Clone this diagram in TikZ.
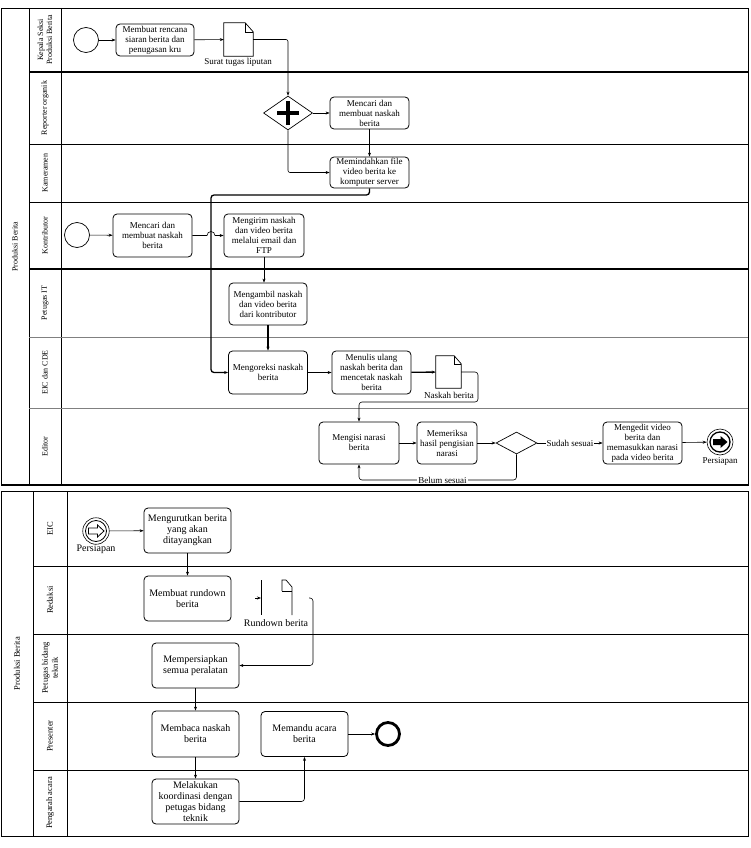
\documentclass[tikz,border=0pt]{standalone}
\usepackage{fontspec}
\setmainfont{Liberation Serif}
\usetikzlibrary{shapes.geometric,arrows.meta}
\begin{document}
\begin{tikzpicture}[x=1pt,y=-1pt,
  task/.style={draw, rounded corners=4pt, align=center, inner sep=1pt, line width=0.8pt, font=\fontsize{9}{10}\selectfont},
  taskB/.style={task, font=\fontsize{10}{11}\selectfont},
  lanelbl/.style={rotate=90, align=center, inner sep=0pt, font=\fontsize{8}{9}\selectfont},
  lanelblB/.style={lanelbl, font=\fontsize{8.5}{10}\selectfont},
  flow/.style={-{Stealth[length=4pt,width=3pt]}, line width=0.6pt},
  thickflow/.style={flow, line width=1.3pt},
  ev/.style={circle, draw, minimum size=25pt, inner sep=0pt, line width=0.7pt},
  lbl/.style={font=\fontsize{9}{10}\selectfont, inner sep=1pt},
  lblB/.style={font=\fontsize{10}{11}\selectfont, inner sep=1pt},
  gate/.style={diamond, draw, inner sep=0pt, line width=0.7pt},
  lane/.style={line width=0.7pt}
]
\useasboundingbox (0,0) rectangle (750,848);

% ================= top pool =================
\draw[line width=0.8pt] (1,8) rectangle (748,485);
\draw[lane] (29,8) -- (29,485);
\draw[lane] (61,8) -- (61,485);
\draw[line width=1.4pt] (29,72) -- (748,72);
\draw[lane] (29,144) -- (748,144);
\draw[lane] (29,202) -- (748,202);
\draw[line width=1.4pt] (29,269) -- (748,269);
\draw[lane, gray] (29,337) -- (748,337);
\draw[lane, gray] (29,408) -- (748,408);
\draw[line width=1.6pt] (1,485) -- (748,485);

\node[lanelbl] (poolA) at (15,246.5) {Produksi Berita};
\node[lanelbl] (lA1) at (45,40) {Kepala Seksi\\Produksi Berita};
\node[lanelbl] (lA2) at (45,108) {Reporter organik};
\node[lanelbl] (lA3) at (45,173) {Kameramen};
\node[lanelbl] (lA4) at (45,235.5) {Kontributor};
\node[lanelbl] (lA5) at (45,303) {Petugas IT};
\node[lanelbl] (lA6) at (45,372.5) {EIC dan CDE};
\node[lanelbl] (lA7) at (45,446.5) {Editor};

% lane 1
\node[ev] (startA) at (86,40) {};
\node[task, minimum width=78pt, minimum height=32pt] (tRencana) at (155,40) {Membuat rencana\\siaran berita dan\\penugasan kru};
\node[minimum width=29pt, minimum height=33pt, inner sep=0pt] (docA) at (238.5,39.5) {};
\draw[line width=0.7pt] (docA.north west) -- ([xshift=-8pt]docA.north east) -- ([yshift=-9pt]docA.north east) -- (docA.south east) -- (docA.south west) -- cycle;
\draw[line width=0.5pt] ([xshift=-8pt]docA.north east) -- ([xshift=-8pt,yshift=-9pt]docA.north east) -- ([yshift=-9pt]docA.north east);
\node[lbl] (docAl) at (238,62) {Surat tugas liputan};

% lane 2
\node[gate, minimum width=49pt, minimum height=34pt] (gw) at (288,113) {};
\draw[line width=3.5pt] ([xshift=-11pt]gw.center) -- ([xshift=11pt]gw.center);
\draw[line width=3.5pt] ([yshift=-12pt]gw.center) -- ([yshift=12pt]gw.center);
\node[task, minimum width=79pt, minimum height=32pt] (tMencariR) at (369.5,113) {Mencari dan\\membuat naskah\\berita};

% lane 3
\node[task, minimum width=79pt, minimum height=31pt] (tPindah) at (369.5,172.5) {Memindahkan file\\video berita ke\\komputer server};

% lane 4
\node[ev] (startK) at (77,235) {};
\node[task, minimum width=79pt, minimum height=43pt] (tMencariK) at (152.5,235.5) {Mencari dan\\membuat naskah\\berita};
\node[task, minimum width=80pt, minimum height=43pt] (tKirim) at (264,235.5) {Mengirim naskah\\dan video berita\\melalui email dan\\FTP};

% lane 5
\node[task, minimum width=78pt, minimum height=42pt] (tAmbil) at (268,304) {Mengambil naskah\\dan video berita\\dari kontributor};

% lane 6
\node[task, minimum width=79pt, minimum height=43pt] (tKoreksi) at (268,372.5) {Mengoreksi naskah\\berita};
\node[task, minimum width=79pt, minimum height=43pt] (tTulis) at (371.5,372.5) {Menulis ulang\\naskah berita dan\\mencetak naskah\\berita};
\node[minimum width=25pt, minimum height=32pt, inner sep=0pt] (docN) at (448.5,372) {};
\draw[line width=0.7pt] (docN.north west) -- ([xshift=-7pt]docN.north east) -- ([yshift=-8pt]docN.north east) -- (docN.south east) -- (docN.south west) -- cycle;
\draw[line width=0.5pt] ([xshift=-7pt]docN.north east) -- ([xshift=-7pt,yshift=-8pt]docN.north east) -- ([yshift=-8pt]docN.north east);
\node[lbl] (docNl) at (449,395) {Naskah berita};

% lane 7
\node[task, minimum width=80pt, minimum height=42pt] (tIsi) at (359,443) {Mengisi narasi\\berita};
\node[task, minimum width=60pt, minimum height=42pt] (tPeriksa) at (447,443) {Memeriksa\\hasil pengisian\\narasi};
\node[gate, minimum width=41pt, minimum height=22pt] (gw2) at (516.5,443) {};
\node[task, minimum width=79pt, minimum height=42pt] (tEdit) at (642.5,443) {Mengedit video\\berita dan\\memasukkan narasi\\pada video berita};
\node[ev, minimum size=26pt, line width=0.6pt] (endA) at (720,442) {};
\draw[line width=1.3pt] (endA.center) circle[radius=10];
\begin{scope}[shift={(endA.center)}]
\fill (-7,-3) -- (0.5,-3) -- (0.5,-6) -- (7.5,0) -- (0.5,6) -- (0.5,3) -- (-7,3) -- cycle;
\end{scope}
\node[lbl] (endAl) at (720,461) {Persiapan};

% top connectors
\draw[flow] (startA) -- (tRencana);
\draw[flow] (tRencana) -- (docA);
\draw[flow, rounded corners=2pt] (docA.east) -| (gw.north);
\draw[flow] (gw.east) -- (tMencariR.west);
\draw[flow, rounded corners=2pt] (gw.south) |- (tPindah.west);
\draw[thickflow] (tMencariR.south) -- (tPindah.north);
\draw[thickflow, rounded corners=3pt] (tPindah.south) -- (369.5,195) -- (211,195) |- (tKoreksi.west);
\draw[flow] (startK) -- (tMencariK);
\draw[flow] (tMencariK.east) -- (207,235.5) arc[start angle=180, end angle=360, radius=4] -- (tKirim.west);
\draw[flow] (tKirim.south) -- (tKirim.south |- tAmbil.north);
\draw[thickflow] (tAmbil.south) -- (tKoreksi.north);
\draw[thickflow] (tKoreksi) -- (tTulis);
\draw[thickflow] (tTulis) -- (docN);
\draw[flow, rounded corners=3pt] (docN.east) -| (478,402) -| (tIsi.north);
\draw[flow] (tIsi) -- (tPeriksa);
\draw[flow] (tPeriksa) -- (gw2);
\draw[flow] (gw2.east) -- node[lbl, fill=white] {Sudah sesuai} (tEdit.west);
\draw[flow, rounded corners=3pt] (gw2.south) -- (516.5,480) -| (tIsi.south);
\node[lbl, fill=white] (belum) at (442.5,480) {Belum sesuai};
\draw[flow] (tEdit) -- (endA);

% ================= bottom pool =================
\draw[line width=0.8pt] (1,491) rectangle (748,836);
\draw[lane] (33,491) -- (33,836);
\draw[lane] (67,491) -- (67,836);
\draw[lane] (33,566) -- (748,566);
\draw[lane] (33,634) -- (748,634);
\draw[lane] (33,702) -- (748,702);
\draw[lane] (33,770) -- (748,770);

\node[lanelblB] (poolB) at (17,663.5) {Produksi Berita};
\node[lanelblB] (lB1) at (50,528.5) {EIC};
\node[lanelblB] (lB2) at (50,600) {Redaksi};
\node[lanelblB] (lB3) at (50,668) {Petugas bidang\\teknik};
\node[lanelblB] (lB4) at (50,736) {Presenter};
\node[lanelblB] (lB5) at (50,803) {Pengarah acara};

\node[ev, minimum size=26.5pt, line width=0.6pt] (startB) at (96,531) {};
\draw[line width=0.8pt] (startB.center) circle[radius=10.5];
\begin{scope}[shift={(startB.center)}]
\draw[line width=0.8pt] (-7.5,-3) -- (1.5,-3) -- (1.5,-6) -- (8,0) -- (1.5,6) -- (1.5,3) -- (-7.5,3) -- cycle;
\end{scope}
\node[lblB] (startBl) at (96,549.5) {Persiapan};

\node[taskB, minimum width=87pt, minimum height=45pt] (tUrut) at (187.5,530.5) {Mengurutkan berita\\yang akan\\ditayangkan};
\node[taskB, minimum width=87pt, minimum height=45pt] (tRundown) at (187.5,598.5) {Membuat rundown\\berita};

% rundown document (partly drawn)
\draw[line width=0.7pt] (261,580) -- (261,615);
\draw[line width=0.7pt] (282,591) -- (282,580) -- (286,580) -- (292,587) -- (292,615);
\draw[line width=0.5pt] (282,591) -- (292,591);
\draw[flow] (255,598) -- (261,598);
\node[lblB] (rdl) at (276,623) {Rundown berita};
\coordinate (rdOut) at (309,598);

\node[taskB, minimum width=87pt, minimum height=45pt] (tSiap) at (195.5,665.5) {Mempersiapkan\\semua peralatan};
\node[taskB, minimum width=87pt, minimum height=46pt] (tBaca) at (195.5,734) {Membaca naskah\\berita};
\node[taskB, minimum width=87pt, minimum height=45pt] (tMandu) at (304.5,734) {Memandu acara\\berita};
\node[taskB, minimum width=87pt, minimum height=45pt] (tKoord) at (195.5,801.5) {Melakukan\\koordinasi dengan\\petugas bidang\\teknik};
\node[circle, draw, line width=2.8pt, minimum size=23pt, inner sep=0pt] (endB) at (388,734) {};

\draw[flow] (startB) -- (tUrut);
\draw[flow] (tUrut) -- (tRundown);
\draw[flow, rounded corners=3pt] (rdOut) -- (313,598) |- (tSiap.east);
\draw[flow] (tSiap) -- (tBaca);
\draw[flow] (tBaca) -- (tKoord);
\draw[flow, rounded corners=3pt] (tKoord.east) -| (tMandu.south);
\draw[flow] (tMandu) -- (endB);
\end{tikzpicture}
\end{document}
